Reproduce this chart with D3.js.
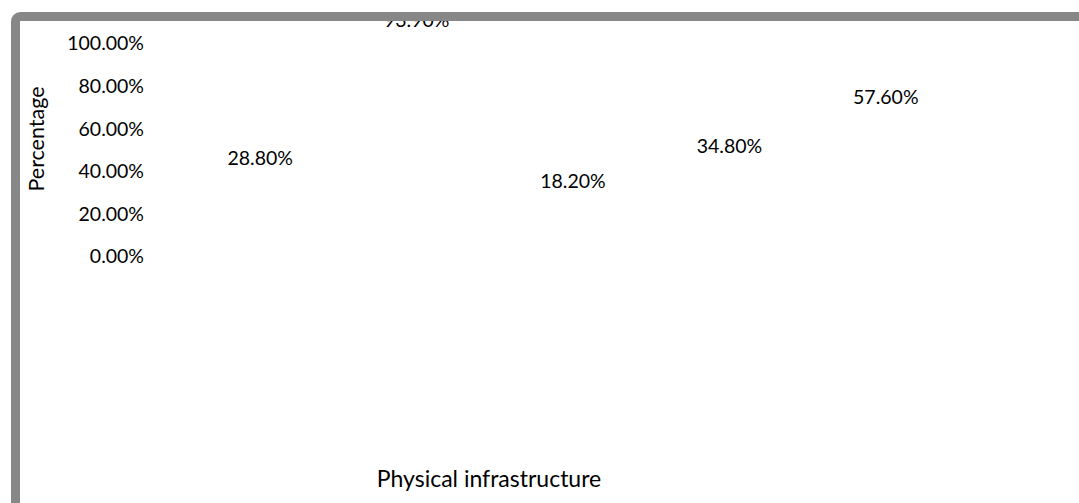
<!DOCTYPE html>
<html>
<head>
<meta charset="utf-8">
<script src="https://cdn.jsdelivr.net/npm/d3@7/dist/d3.min.js"></script>
<style>
  html, body { margin: 0; padding: 0; background: #ffffff; }
  svg { display: block; }
  text { font-family: Lato, "Liberation Sans", sans-serif; fill: #000000; }
</style>
</head>
<body>
<svg id="chart" width="1079" height="503"></svg>
<script>
// Chart data
const categories = ["Physical infrastructure"];
const values = [28.8, 93.9, 18.2, 34.8, 57.6];
const yTicks = [0, 20, 40, 60, 80, 100];
const yTitle = "Percentage";

const W = 1079, H = 503;
const svg = d3.select("#chart");

// Plot area
const plot = { left: 150, right: 828, top: 43, bottom: 256 };

const y = d3.scaleLinear().domain([0, 100]).range([plot.bottom, plot.top]);

// Category band (single group) and the series positions inside it
const xCat = d3.scaleBand().domain(categories).range([182, 964]);
const xSer = d3.scaleBand()
  .domain(d3.range(values.length))
  .range([0, xCat.bandwidth()])
  .paddingInner(0.45)
  .paddingOuter(0.225);

// Clip region inside the frame
svg.append("clipPath").attr("id", "inner")
  .append("rect").attr("x", 20).attr("y", 21).attr("width", W).attr("height", H);

const g = svg.append("g").attr("clip-path", "url(#inner)");

// Y axis tick labels (no axis line or tick marks)
const yAxis = d3.axisLeft(y)
  .tickValues(yTicks)
  .tickSize(0)
  .tickPadding(0)
  .tickFormat(d => d3.format(".2f")(d) + "%");
const ya = g.append("g").attr("transform", "translate(144,0)").call(yAxis);
ya.select(".domain").remove();
ya.selectAll("text")
  .style("font-family", "Lato, 'Liberation Sans', sans-serif")
  .style("font-size", "19.5px")
  .attr("fill", "#000")
  .attr("dy", "0.35em");

// Bars (white fill on white background)
const group = g.append("g")
  .attr("transform", `translate(${xCat(categories[0])},0)`);

group.selectAll("rect.bar")
  .data(values)
  .join("rect")
  .attr("class", "bar")
  .attr("x", (d, i) => xSer(i))
  .attr("width", xSer.bandwidth())
  .attr("y", d => y(d))
  .attr("height", d => y(0) - y(d))
  .attr("fill", "#ffffff");

// Value labels above each bar
group.selectAll("text.val")
  .data(values)
  .join("text")
  .attr("class", "val")
  .attr("x", (d, i) => xSer(i) + xSer.bandwidth() / 2)
  .attr("y", d => y(d) - 36)
  .attr("dy", "0.35em")
  .attr("text-anchor", "middle")
  .style("font-size", "19.5px")
  .text(d => d3.format(".2f")(d) + "%");

// Axis titles
g.append("text")
  .attr("transform", `translate(43.5,139) rotate(-90)`)
  .attr("text-anchor", "middle")
  .style("font-size", "21.5px")
  .text(yTitle);

g.append("text")
  .attr("x", 489)
  .attr("y", 486.5)
  .attr("text-anchor", "middle")
  .style("font-size", "23px")
  .text(categories[0]);

// Outer frame
svg.append("rect")
  .attr("x", 15.5).attr("y", 16.5)
  .attr("width", W + 40).attr("height", H + 40)
  .attr("rx", 5).attr("ry", 5)
  .attr("fill", "none")
  .attr("stroke", "#878787")
  .attr("stroke-width", 9);
</script>
</body>
</html>
